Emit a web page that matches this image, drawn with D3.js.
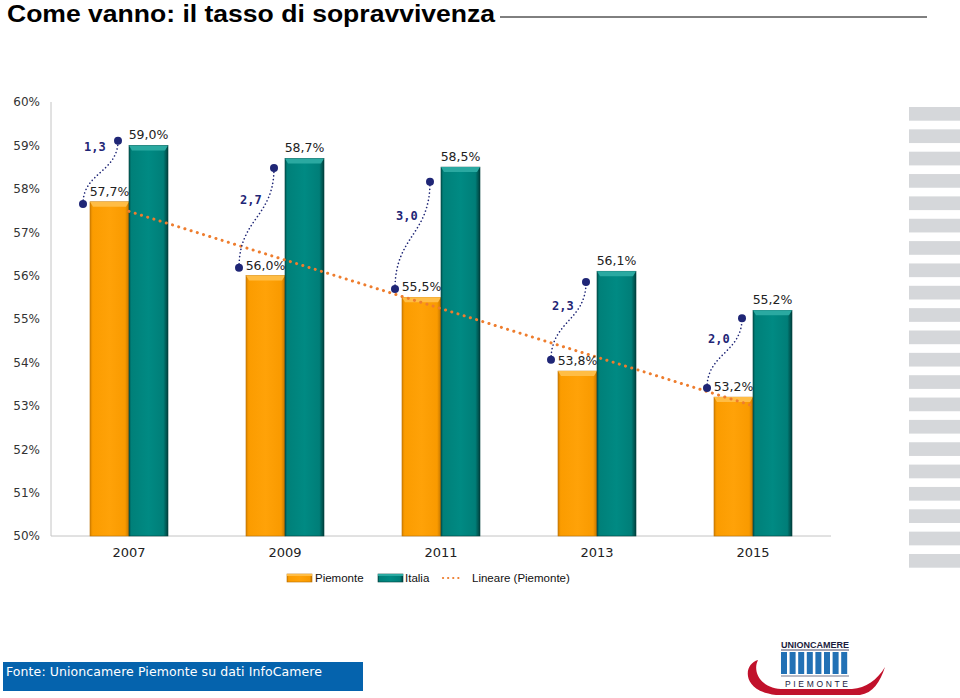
<!DOCTYPE html>
<html><head><meta charset="utf-8">
<script src="https://cdn.jsdelivr.net/npm/d3@7"></script>
<style>body{margin:0;background:#fff}svg{display:block}</style>
</head><body>
<script>
// ---- data ----
const years = ["2007", "2009", "2011", "2013", "2015"];
const seriesNames = ["Piemonte", "Italia"];
const piemonte = [57.7, 56.0, 55.5, 53.8, 53.2];
const italia = [59.0, 58.7, 58.5, 56.1, 55.2];
const yTicks = [50, 51, 52, 53, 54, 55, 56, 57, 58, 59, 60];
// annotation anchors (value levels of the gap connector ends)
const gapFrom = [57.65, 56.18, 55.69, 54.06, 53.41];
const gapTo = [59.11, 58.48, 58.16, 55.85, 55.02];
const legendLabels = ["Piemonte", "Italia", "Lineare (Piemonte)"];
const titleText = "Come vanno: il tasso di sopravvivenza";
const sourceText = "Fonte: Unioncamere Piemonte su dati InfoCamere";

const W = 960, H = 698;
const comma = v => d3.format(".1f")(v).replace(".", ",");

const svg = d3.select("body").append("svg").attr("width", W).attr("height", H);
const defs = svg.append("defs");

function hGrad(id, stops) {
  const g = defs.append("linearGradient").attr("id", id).attr("x1", 0).attr("x2", 1).attr("y1", 0).attr("y2", 0);
  stops.forEach(s => g.append("stop").attr("offset", s[0]).attr("stop-color", s[1]));
}
hGrad("gP", [[0, "#d88300"], [0.07, "#fb9c00"], [0.5, "#ffa208"], [0.9, "#f99a00"], [1, "#c27500"]]);
hGrad("gI", [[0, "#005955"], [0.06, "#008079"], [0.5, "#008a83"], [0.88, "#007e78"], [1, "#00403d"]]);

// ---- title ----
svg.append("text").attr("x", 7).attr("y", 21.5)
  .attr("font-family", "'Liberation Sans Narrow','Liberation Sans',Arial,sans-serif")
  .attr("font-weight", "bold").attr("font-size", 23).attr("fill", "#000")
  .attr("textLength", 488).attr("lengthAdjust", "spacingAndGlyphs")
  .text(titleText);
svg.append("line").attr("x1", 500).attr("x2", 927).attr("y1", 17).attr("y2", 17)
  .attr("stroke", "#000").attr("stroke-width", 1);

// ---- right decorative stripes ----
svg.append("g").selectAll("rect").data(d3.range(21)).join("rect")
  .attr("x", 909).attr("width", 51)
  .attr("y", i => 107 + i * 22.35).attr("height", 13.7)
  .attr("fill", "#d5d7da");

// ---- scales ----
const pLeft = 51, pRight = 831, pTop = 102, pBottom = 536;
const y = d3.scaleLinear().domain([50, 60]).range([pBottom, pTop]);
const x0 = d3.scaleBand().domain(years).range([pLeft, pRight]);
const x1 = d3.scaleBand().domain(seriesNames).range([0, x0.bandwidth()]).paddingOuter(1).paddingInner(0);

// axes
const yAxis = svg.append("g").attr("transform", `translate(${pLeft},0)`)
  .call(d3.axisLeft(y).tickValues(yTicks).tickSize(0).tickPadding(11).tickFormat(d => d + "%"));
yAxis.select(".domain").remove();
yAxis.selectAll("text").attr("font-family", "'DejaVu Sans',Verdana,sans-serif").attr("font-size", 12).attr("fill", "#333");
svg.append("line").attr("x1", pLeft).attr("x2", pLeft).attr("y1", pTop).attr("y2", pBottom).attr("stroke", "#c4c4c4");
svg.append("line").attr("x1", pLeft).attr("x2", pRight).attr("y1", pBottom).attr("y2", pBottom).attr("stroke", "#c4c4c4");

const xAxis = svg.append("g").attr("transform", `translate(0,${pBottom})`)
  .call(d3.axisBottom(x0).tickSize(0).tickPadding(12));
xAxis.select(".domain").remove();
xAxis.selectAll("text").attr("font-family", "'DejaVu Sans',Verdana,sans-serif").attr("font-size", 13).attr("fill", "#222");

// ---- bars ----
const rows = years.map((yr, i) => ({ yr, i, vals: [piemonte[i], italia[i]] }));
const bw = x1.bandwidth();
const barG = svg.append("g");
rows.forEach(r => {
  r.vals.forEach((v, k) => {
    const bx = x0(r.yr) + x1(seriesNames[k]);
    const by = y(v);
    const g = barG.append("g");
    g.append("rect").attr("x", bx).attr("y", by).attr("width", bw).attr("height", pBottom - by)
      .attr("fill", k === 0 ? "url(#gP)" : "url(#gI)")
      .attr("stroke", k === 0 ? "#b86f00" : "#00403d").attr("stroke-width", 0.6);
    g.append("path")
      .attr("d", `M${bx},${by}L${bx + bw},${by}L${bx + bw - 3},${by + 5}L${bx + 3},${by + 5}Z`)
      .attr("fill", k === 0 ? "#ffbd45" : "#2aa9a1");
  });
});

// ---- trend line (linear regression of Piemonte) ----
const xs = piemonte.map((_, i) => i + 1);
const mx = d3.mean(xs), my = d3.mean(piemonte);
const slope = d3.sum(xs.map((xv, i) => (xv - mx) * (piemonte[i] - my))) / d3.sum(xs.map(xv => (xv - mx) ** 2));
const icpt = my - slope * mx;
const trendPts = [0, years.length - 1].map(i => [x0(years[i]) + x0.bandwidth() / 2, y(icpt + slope * (i + 1))]);
svg.append("path").attr("d", d3.line()(trendPts))
  .attr("fill", "none").attr("stroke", "#ee7d2e").attr("stroke-width", 3)
  .attr("stroke-dasharray", "0.1,6.4").attr("stroke-linecap", "round");

// ---- value labels ----
const lblFont = "'DejaVu Sans',Verdana,sans-serif";
rows.forEach(r => {
  r.vals.forEach((v, k) => {
    svg.append("text")
      .attr("x", x0(r.yr) + x1(seriesNames[k]) + bw / 2)
      .attr("y", y(v) - 6)
      .attr("text-anchor", "middle").attr("font-family", lblFont).attr("font-size", 12.5)
      .attr("fill", "#222").text(comma(v) + "%");
  });
});

// ---- gap connectors ----
const navy = "#1f2676";
rows.forEach(r => {
  const i = r.i;
  const ax = x0(r.yr) + x1("Piemonte") - 7, ay = y(gapFrom[i]);
  const bx = x0(r.yr) + x1("Italia") - 11, by = y(gapTo[i]);
  const ym = (ay + by) / 2;
  svg.append("path").attr("d", `M${ax},${ay}C${ax},${ym} ${bx},${ym} ${bx},${by}`)
    .attr("fill", "none").attr("stroke", navy).attr("stroke-width", 1.6)
    .attr("stroke-dasharray", "0.1,3.6").attr("stroke-linecap", "round");
  svg.append("circle").attr("cx", ax).attr("cy", ay).attr("r", 4).attr("fill", navy);
  svg.append("circle").attr("cx", bx).attr("cy", by).attr("r", 4).attr("fill", navy);
  const ly = i === 0 ? by + 10 : by + 0.36 * (ay - by);
  svg.append("text").attr("x", ax + 1).attr("y", ly)
    .attr("font-family", "'DejaVu Sans Mono',monospace").attr("font-weight", "bold")
    .attr("font-size", 12).attr("fill", navy)
    .text(comma(italia[i] - piemonte[i]));
});

// ---- legend ----
const lg = svg.append("g").attr("font-family", "'Liberation Sans',Arial,sans-serif").attr("font-size", 11.5).attr("fill", "#111");
lg.append("rect").attr("x", 287).attr("y", 574).attr("width", 25).attr("height", 8).attr("fill", "url(#gP)").attr("stroke", "#b86f00").attr("stroke-width", 0.6);
lg.append("rect").attr("x", 287).attr("y", 574).attr("width", 25).attr("height", 2).attr("fill", "#ffbd45");
lg.append("text").attr("x", 315).attr("y", 582).text(legendLabels[0]);
lg.append("rect").attr("x", 378).attr("y", 574).attr("width", 25).attr("height", 8).attr("fill", "url(#gI)").attr("stroke", "#00403d").attr("stroke-width", 0.6);
lg.append("rect").attr("x", 378).attr("y", 574).attr("width", 25).attr("height", 2).attr("fill", "#2aa9a1");
lg.append("text").attr("x", 405).attr("y", 582).text(legendLabels[1]);
lg.append("line").attr("x1", 443).attr("x2", 462).attr("y1", 578).attr("y2", 578)
  .attr("stroke", "#ee7d2e").attr("stroke-width", 2.2).attr("stroke-dasharray", "0.1,5").attr("stroke-linecap", "round");
lg.append("text").attr("x", 472).attr("y", 582).text(legendLabels[2]);

// ---- source box ----
svg.append("rect").attr("x", 3).attr("y", 662).attr("width", 360).attr("height", 29).attr("fill", "#0563ad");
svg.append("text").attr("x", 6).attr("y", 676)
  .attr("font-family", "'DejaVu Sans',Verdana,sans-serif").attr("font-size", 12.5).attr("fill", "#fff")
  .attr("textLength", 316).attr("lengthAdjust", "spacing").text(sourceText);

// ---- logo ----
const logo = svg.append("g");
logo.append("path")
  .attr("d", "M758,660 C743,664 741,691 776,695 L860,695 C873,693 880,682 885,667 C877,680 866,688 852,689 L781,689 C761,688 752,672 758,660 Z")
  .attr("fill", "#c1112b");
logo.append("text").attr("x", 781).attr("y", 648).attr("font-family", "'Liberation Sans',Arial,sans-serif")
  .attr("font-weight", "bold").attr("font-size", 9.5).attr("fill", "#1b1b3e")
  .attr("textLength", 68).attr("lengthAdjust", "spacingAndGlyphs").text("UNIONCAMERE");
logo.append("line").attr("x1", 781).attr("x2", 849).attr("y1", 650).attr("y2", 650).attr("stroke", "#1b1b3e").attr("stroke-width", 0.8);
logo.append("g").selectAll("rect").data(d3.range(8)).join("rect")
  .attr("x", i => 781 + i * 8.6).attr("y", 652).attr("width", 6).attr("height", 22).attr("fill", "#2271b5");
logo.append("line").attr("x1", 781).attr("x2", 849).attr("y1", 676).attr("y2", 676).attr("stroke", "#1b1b3e").attr("stroke-width", 0.6);
logo.append("text").attr("x", 785).attr("y", 686.5).attr("font-family", "'Liberation Sans',Arial,sans-serif")
  .attr("font-size", 8.5).attr("fill", "#1b1b3e")
  .attr("textLength", 63).attr("lengthAdjust", "spacing").text("PIEMONTE");
</script>
</body></html>
